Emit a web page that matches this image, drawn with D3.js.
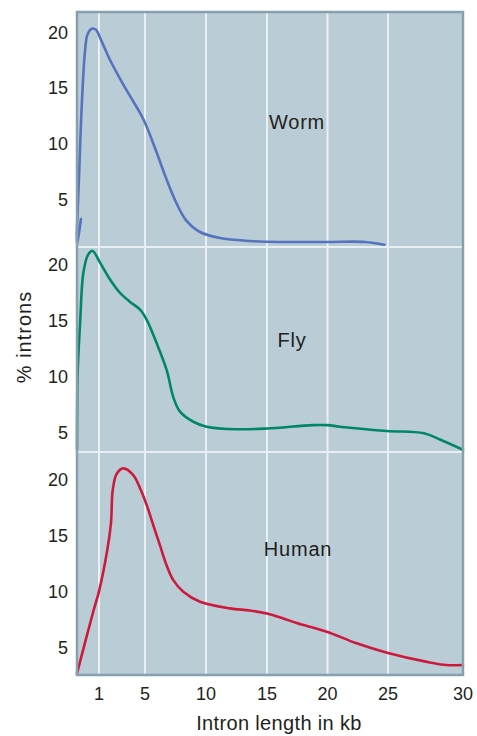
<!DOCTYPE html>
<head>
    <meta charset="utf-8">
    <script src="https://d3js.org/d3.v7.min.js"></script>
    <style type="text/css">
        body { margin: 0; background: #fff; }
        text {
            font-family: "Liberation Sans", Arial, sans-serif;
            fill: #231f20;
        }
        .tick { font-size: 18px; }
        .label { font-size: 20px; letter-spacing: 0.8px; }
        .title { font-size: 20px; letter-spacing: 0.35px; }
    </style>
</head>
<body>

<script type="text/javascript">
    // data : [intron length kb, % introns]
    var species = ["Worm", "Fly", "Human"],
        colors = ["#5573be", "#00876a", "#cc1a3c"],
        xTicks = [1, 5, 10, 15, 20, 25, 30],
        yTicks = [5, 10, 15, 20];

    var worm = [
        [0.18, 3.3], [0, 1.0], [0.1, 7.5], [0.23, 14.0], [0.36, 18.2], [0.48, 19.8],
        [0.67, 20.3], [0.86, 20.2], [1.17, 19.3], [1.96, 17.5], [3.09, 15.35], [3.96, 13.84],
        [4.57, 12.77], [5.08, 11.7], [5.82, 9.64], [6.64, 7.2], [7.46, 5.0], [8.36, 3.2],
        [9.51, 2.14], [11.15, 1.6], [13.6, 1.34], [16.05, 1.25], [20, 1.25], [23.1, 1.25],
        [24.7, 1.0]
    ];
    var fly = [
        [0, 3.6], [0.01, 8.0], [0.03, 10.4], [0.14, 14.8], [0.29, 19.3], [0.5, 20.9],
        [0.71, 21.25], [1.09, 20.2], [1.96, 18.7], [2.83, 17.5], [3.7, 16.7], [4.57, 16.0],
        [5.14, 15.1], [5.96, 13.0], [6.78, 10.6], [7.32, 8.2], [7.87, 6.9], [8.96, 6.0],
        [10.05, 5.56], [12.5, 5.33], [15, 5.4], [18.8, 5.7], [20, 5.7], [21, 5.56],
        [24.9, 5.18], [27.4, 4.97], [28.5, 4.4], [30, 3.5]
    ];
    var human = [
        [0, 2.68], [0.74, 8.2], [1, 10.0], [1.67, 13.4], [2.04, 16.1], [2.19, 19.0],
        [2.54, 20.5], [3.11, 20.98], [3.98, 20.38], [4.57, 19.2], [5.14, 17.7], [5.68, 15.9],
        [6.23, 14.1], [6.78, 12.3], [7.32, 11.0], [8.14, 9.96], [9.51, 9.07], [11.97, 8.48],
        [13.6, 8.29], [15, 8.02], [16.3, 7.6], [17.45, 7.17], [19.94, 6.4], [22.4, 5.36],
        [25, 4.5], [27.6, 3.7], [28.9, 3.42], [30, 3.42]
    ];
    var series = [worm, fly, human];

    // y range shown in each panel (bottom, top)
    var yDomains = [[0.8, 21.79], [3.3, 21.6], [2.53, 22.44]];
</script>

<script type="text/javascript">
    var w = 477, h = 736;
    var left = 77, right = 463;
    var panelEdges = [12, 247, 452, 675];

    // the x axis of the figure is stretched at both ends, so piecewise linear
    var x = d3.scaleLinear()
        .domain([0, 1, 5, 10, 15, 20, 25, 30])
        .range([left, 99, 145, 206, 267, 327.5, 388, right]);

    var yScales = yDomains.map(function(d, i) {
        return d3.scaleLinear().domain(d).range([panelEdges[i + 1], panelEdges[i]]);
    });

    var svg = d3.select("body").append("svg")
        .attr("width", w)
        .attr("height", h);

    // background
    svg.append("rect")
        .attr("x", left).attr("y", panelEdges[0])
        .attr("width", right - left)
        .attr("height", panelEdges[3] - panelEdges[0])
        .attr("fill", "#baccd6");

    // vertical grid
    svg.selectAll("line.vgrid").data(xTicks.slice(0, -1)).enter().append("line")
        .attr("class", "vgrid")
        .attr("x1", function(d) { return x(d); })
        .attr("x2", function(d) { return x(d); })
        .attr("y1", panelEdges[0])
        .attr("y2", panelEdges[3])
        .attr("stroke", "#e9eff2")
        .attr("stroke-width", 2);

    // panel separators
    svg.selectAll("line.sep").data([1, 2]).enter().append("line")
        .attr("class", "sep")
        .attr("x1", left).attr("x2", right)
        .attr("y1", function(d) { return panelEdges[d]; })
        .attr("y2", function(d) { return panelEdges[d]; })
        .attr("stroke", "#e9eff2")
        .attr("stroke-width", 2);

    // curves
    series.forEach(function(data, i) {
        var line = d3.line()
            .x(function(d) { return x(d[0]); })
            .y(function(d) { return yScales[i](d[1]); })
            .curve(d3.curveCatmullRom.alpha(0.5));

        svg.append("path")
            .datum(data)
            .attr("d", line)
            .attr("fill", "none")
            .attr("stroke", colors[i])
            .attr("stroke-width", 2.6)
            .attr("stroke-linejoin", "round")
            .attr("stroke-linecap", "round");

        // y tick labels
        svg.selectAll("text.y" + i).data(yTicks).enter().append("text")
            .attr("class", "tick y" + i)
            .attr("x", 68)
            .attr("y", function(d) { return yScales[i](d); })
            .attr("dy", "0.36em")
            .attr("text-anchor", "end")
            .text(function(d) { return d; });
    });

    // species labels
    var labelPos = [[297, 129], [292, 347], [298, 556]];
    svg.selectAll("text.label").data(species).enter().append("text")
        .attr("class", "label")
        .attr("x", function(d, i) { return labelPos[i][0]; })
        .attr("y", function(d, i) { return labelPos[i][1]; })
        .attr("text-anchor", "middle")
        .text(function(d) { return d; });

    // frame
    svg.append("rect")
        .attr("x", left).attr("y", panelEdges[0])
        .attr("width", right - left)
        .attr("height", panelEdges[3] - panelEdges[0])
        .attr("fill", "none")
        .attr("stroke", "#87a0b0")
        .attr("stroke-width", 2.5);

    // x tick labels
    svg.selectAll("text.x").data(xTicks).enter().append("text")
        .attr("class", "tick x")
        .attr("x", function(d) { return x(d); })
        .attr("y", 700)
        .attr("text-anchor", "middle")
        .text(function(d) { return d; });

    svg.append("text")
        .attr("class", "title")
        .attr("x", 279)
        .attr("y", 730)
        .attr("text-anchor", "middle")
        .text("Intron length in kb");

    svg.append("text")
        .attr("class", "title")
        .attr("transform", "translate(31,337) rotate(-90)")
        .attr("text-anchor", "middle")
        .style("letter-spacing", "1px")
        .text("% introns");
</script>
</body>
</html>
